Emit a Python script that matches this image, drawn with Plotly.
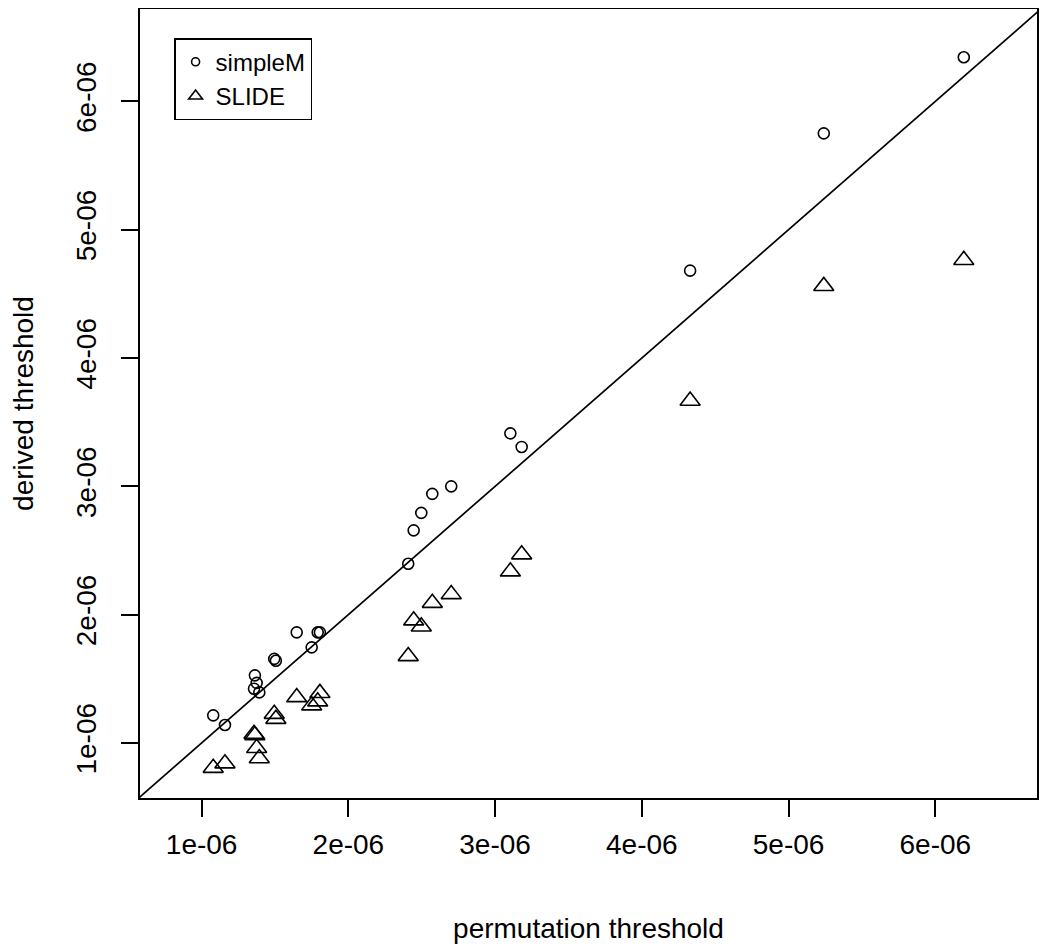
import plotly.graph_objects as go

# permutation threshold (shared x) in units of 1e-6
perm = [1.079, 1.159, 1.357, 1.363, 1.375, 1.393, 1.495, 1.506, 1.648, 1.750,
        1.791, 1.806, 2.408, 2.445, 2.497, 2.572, 2.701, 3.104, 3.181, 4.329,
        5.240, 6.194]
simpleM = [1.215, 1.140, 1.423, 1.527, 1.468, 1.394, 1.655, 1.641, 1.862, 1.745,
           1.862, 1.862, 2.397, 2.657, 2.793, 2.941, 3.000, 3.413, 3.307, 4.681,
           5.751, 6.344]
slide = [0.805, 0.840, 1.070, 1.060, 0.960, 0.880, 1.226, 1.187, 1.356, 1.292,
         1.323, 1.388, 1.676, 1.954, 1.907, 2.091, 2.159, 2.336, 2.469, 3.666,
         4.560, 4.763]
tick_vals = [1, 2, 3, 4, 5, 6]
tick_labels = ["1e-06", "2e-06", "3e-06", "4e-06", "5e-06", "6e-06"]

scale = 1e-6
xs = [v * scale for v in perm]
ys1 = [v * scale for v in simpleM]
ys2 = [v * scale for v in slide]
tv = [v * scale for v in tick_vals]

FONT = "Liberation Sans, Arial, Helvetica, sans-serif"
LW = 1.7

fig = go.Figure()
fig.add_trace(go.Scatter(x=xs, y=ys1, mode="markers", name="simpleM", showlegend=False,
                         marker=dict(symbol="circle-open", size=11, color="black",
                                     line=dict(width=1.6, color="black"))))
fig.add_trace(go.Scatter(x=xs, y=ys2, mode="markers", name="SLIDE", showlegend=False,
                         marker=dict(symbol="triangle-up-open", size=17.5, color="black",
                                     line=dict(width=1.6, color="black"))))
# legend entries (smaller symbols, as in the reference legend)
fig.add_trace(go.Scatter(x=[None], y=[None], mode="markers", name="simpleM",
                         marker=dict(symbol="circle-open", size=8, color="black",
                                     line=dict(width=1.6, color="black"))))
fig.add_trace(go.Scatter(x=[None], y=[None], mode="markers", name="SLIDE",
                         marker=dict(symbol="triangle-up-open", size=12, color="black",
                                     line=dict(width=1.6, color="black"))))

# identity line y = x (clipped to plot area)
fig.add_shape(type="line", xref="x", yref="y", x0=0, y0=0, x1=1e-5, y1=1e-5,
              line=dict(color="black", width=LW))

axis_common = dict(showgrid=False, zeroline=False, showline=True, linecolor="black",
                   linewidth=LW, mirror=True, ticks="outside", ticklen=17,
                   tickwidth=LW, tickcolor="black", tickvals=tv, ticktext=tick_labels,
                   tickfont=dict(family=FONT, size=28, color="black"),
                   automargin=False)

fig.update_xaxes(range=[0.580e-6, 6.693e-6],
                 title=dict(text="permutation threshold", standoff=59,
                            font=dict(family=FONT, size=28, color="black")),
                 ticklabelstandoff=4,
                 **axis_common)
fig.update_yaxes(range=[0.571e-6, 6.72e-6], tickangle=-90,
                 title=dict(text="derived threshold", standoff=29,
                            font=dict(family=FONT, size=28, color="black")),
                 ticklabelstandoff=14,
                 **axis_common)

fig.update_layout(
    width=1042, height=942,
    margin=dict(l=132, r=13, t=1, b=152),
    paper_bgcolor="white", plot_bgcolor="white",
    font=dict(family=FONT, color="black"),
    legend=dict(x=0.038, y=0.963, xanchor="left", yanchor="top",
                bordercolor="black", borderwidth=1.5, bgcolor="white",
                font=dict(family=FONT, size=24, color="black"),
                itemsizing="trace", tracegroupgap=0),
    showlegend=True,
)

fig.write_html("out.html")
